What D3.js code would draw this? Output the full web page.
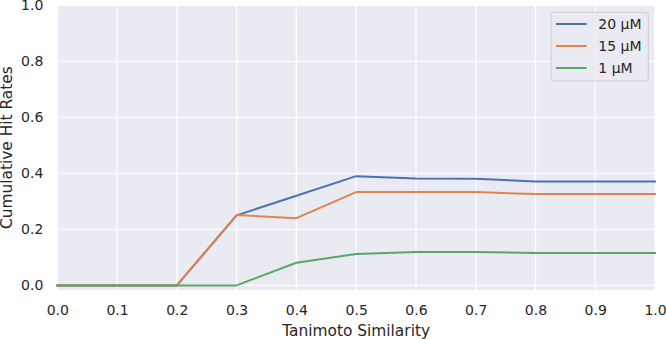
<!DOCTYPE html>
<html>
<head>
<meta charset="utf-8">
<script src="https://cdn.jsdelivr.net/npm/d3@7"></script>
<style>
  body { margin: 0; background: #fff; }
  text { font-family: "DejaVu Sans", sans-serif; fill: #262626; }
</style>
</head>
<body>
<svg id="chart" width="666" height="339"></svg>
<script>
const similarity = [0.0, 0.1, 0.2, 0.3, 0.4, 0.5, 0.6, 0.7, 0.8, 0.9, 1.0];
const rate20 = [0, 0, 0, 0.25, 0.32, 0.39, 0.382, 0.381, 0.371, 0.371, 0.371];
const rate15 = [0, 0, 0, 0.251, 0.24, 0.333, 0.333, 0.333, 0.326, 0.326, 0.326];
const rate1 = [0, 0, 0, 0, 0.081, 0.112, 0.119, 0.119, 0.116, 0.116, 0.116];
const seriesNames = ["20 μM", "15 μM", "1 μM"];
const colors = ["#4c72b0", "#dd8452", "#55a868"];
const xTicks = [0, 0.1, 0.2, 0.3, 0.4, 0.5, 0.6, 0.7, 0.8, 0.9, 1.0];
const yTicks = [0, 0.2, 0.4, 0.6, 0.8, 1.0];

const margin = { top: 5.3, right: 11, bottom: 49, left: 57.3 };
const width = 666 - margin.left - margin.right;
const height = 339 - margin.top - margin.bottom;

const svg = d3.select("#chart");
const g = svg.append("g").attr("transform", `translate(${margin.left},${margin.top})`);

const x = d3.scaleLinear().domain([0, 1]).range([0, width]);
const y = d3.scaleLinear().domain([-0.0165, 1.0]).range([height, 0]);

g.append("rect")
  .attr("width", width)
  .attr("height", height)
  .attr("fill", "#eaeaf2");

// grid
g.append("g")
  .selectAll("line")
  .data(xTicks)
  .join("line")
  .attr("x1", (d) => x(d))
  .attr("x2", (d) => x(d))
  .attr("y1", 0)
  .attr("y2", height)
  .attr("stroke", "#fff")
  .attr("stroke-width", 1.3);

g.append("g")
  .selectAll("line")
  .data(yTicks)
  .join("line")
  .attr("x1", 0)
  .attr("x2", width)
  .attr("y1", (d) => y(d))
  .attr("y2", (d) => y(d))
  .attr("stroke", "#fff")
  .attr("stroke-width", 1.3);

// axes (labels only, seaborn darkgrid has no spines)
const xAxis = g.append("g")
  .attr("transform", `translate(0,${height})`)
  .call(d3.axisBottom(x).tickValues(xTicks).tickFormat(d3.format(".1f")).tickSize(0).tickPadding(15));
xAxis.select(".domain").remove();
xAxis.selectAll("text").attr("font-size", 14).attr("font-family", "DejaVu Sans").attr("fill", "#262626");

const yAxis = g.append("g")
  .call(d3.axisLeft(y).tickValues(yTicks).tickFormat(d3.format(".1f")).tickSize(0).tickPadding(14));
yAxis.select(".domain").remove();
yAxis.selectAll("text").attr("font-size", 14).attr("font-family", "DejaVu Sans").attr("fill", "#262626");

svg.append("text")
  .attr("x", margin.left + width / 2)
  .attr("y", 335.5)
  .attr("text-anchor", "middle")
  .attr("font-size", 15.4)
  .text("Tanimoto Similarity");

svg.append("text")
  .attr("transform", `translate(12,${margin.top + height / 2}) rotate(-90)`)
  .attr("text-anchor", "middle")
  .attr("font-size", 15.4)
  .text("Cumulative Hit Rates");

// lines
const allSeries = [rate20, rate15, rate1];
const line = d3.line()
  .x((d, i) => x(similarity[i]))
  .y((d) => y(d));

g.selectAll(".series")
  .data(allSeries)
  .join("path")
  .attr("class", "series")
  .attr("d", line)
  .attr("fill", "none")
  .attr("stroke", (d, i) => colors[i])
  .attr("stroke-width", 2)
  .attr("stroke-linejoin", "round")
  .attr("stroke-linecap", "square");

// legend
const legend = svg.append("g").attr("transform", "translate(551,12.3)");
legend.append("rect")
  .attr("width", 97.3)
  .attr("height", 68.7)
  .attr("rx", 3)
  .attr("fill", "#eaeaf2")
  .attr("fill-opacity", 0.8)
  .attr("stroke", "#cccccc")
  .attr("stroke-width", 1);

seriesNames.forEach((name, i) => {
  const yy = 11.7 + i * 22;
  legend.append("line")
    .attr("x1", 5)
    .attr("x2", 35.7)
    .attr("y1", yy)
    .attr("y2", yy)
    .attr("stroke", colors[i])
    .attr("stroke-width", 2);
  legend.append("text")
    .attr("x", 47.3)
    .attr("y", yy)
    .attr("dy", "0.35em")
    .attr("font-size", 14)
    .text(name);
});
</script>
</body>
</html>
